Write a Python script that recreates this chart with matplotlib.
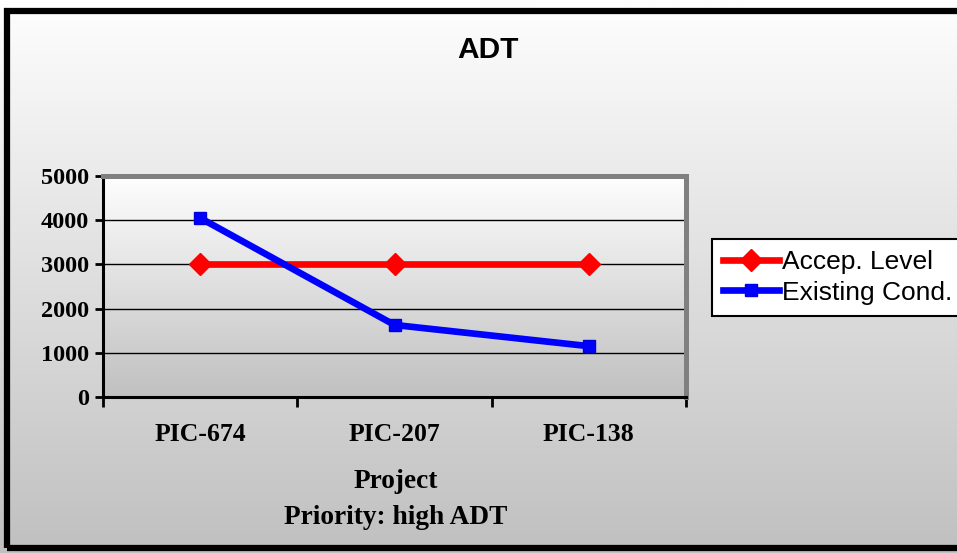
import numpy as np
import matplotlib
matplotlib.use("Agg")
import matplotlib.pyplot as plt
from matplotlib.patches import Rectangle
from matplotlib.colors import LinearSegmentedColormap

categories = ["PIC-674", "PIC-207", "PIC-138"]
accep_level = [3000, 3000, 3000]
existing_cond = [4050, 1630, 1150]
y_ticks = [0, 1000, 2000, 3000, 4000, 5000]
series_names = ["Accep. Level", "Existing Cond."]
title = "ADT"
xlabel_lines = ["Project", "Priority: high ADT"]

W, H = 957, 553
fig = plt.figure(figsize=(W / 100, H / 100), dpi=100)

grad = np.linspace(0, 1, 256).reshape(-1, 1)
cmap = LinearSegmentedColormap.from_list("g", ["#fefefe", "#c0c0c0"])

# figure background gradient
bg = fig.add_axes([0, 0, 1, 1], zorder=-10)
bg.imshow(grad, cmap=cmap, aspect="auto", extent=[0, 1, 0, 1], origin="upper")
bg.set_xlim(0, 1); bg.set_ylim(0, 1)
bg.axis("off")
# outer black frame (right side runs past the image)
bg.add_patch(Rectangle((7 / W, (H - 548) / H), 1.2, (548 - 11) / H,
                       fill=False, edgecolor="black", linewidth=4.5,
                       transform=bg.transAxes, clip_on=False))

serif = ["Liberation Serif", "DejaVu Serif"]
sans = ["Liberation Sans", "DejaVu Sans"]

left, right, top, bottom = 103, 686, 176, 397
ax = fig.add_axes([left / W, 1 - bottom / H, (right - left) / W, (bottom - top) / H])
ax.imshow(grad, cmap=cmap, aspect="auto", extent=[0, 1, 0, 1],
          transform=ax.transAxes, origin="upper", zorder=0)

x = np.arange(len(categories))
ax.set_xlim(-0.5, len(categories) - 0.5)
ax.set_ylim(0, 5000)

for yv in y_ticks[1:-1]:
    ax.axhline(yv, color="black", lw=1.0, zorder=1)

ax.plot(x, accep_level, color="#ff0000", lw=4.8, marker="D", markersize=11,
        markerfacecolor="#ff0000", markeredgecolor="#ff0000", zorder=3,
        label=series_names[0])
ax.plot(x, existing_cond, color="#0000ff", lw=4.8, marker="s", markersize=8.5,
        markerfacecolor="#0000ff", markeredgecolor="#0000dd", zorder=4,
        label=series_names[1])

ax.set_yticks(y_ticks)
ax.set_yticklabels([str(v) for v in y_ticks], fontfamily=serif,
                   fontweight="bold", fontsize=17.5)
ax.set_xticks(np.arange(-0.5, len(categories)))
ax.set_xticklabels([])
ax.set_xticks(x, minor=True)
ax.set_xticklabels(categories, minor=True, fontfamily=serif,
                   fontweight="bold", fontsize=18.5)
ax.tick_params(axis="y", length=6, width=2, direction="out", pad=4)
ax.tick_params(axis="x", which="major", length=7, width=2, direction="out")
ax.tick_params(axis="x", which="minor", length=0, pad=19)

for s in ["top", "right"]:
    ax.spines[s].set_color("#808080")
    ax.spines[s].set_linewidth(3.6)
for s in ["left", "bottom"]:
    ax.spines[s].set_color("black")
    ax.spines[s].set_linewidth(2.2)

fig.text(488 / W, 1 - 50 / H, title, ha="center", va="center",
         fontfamily=sans, fontweight="bold", fontsize=21.5)
fig.text(396 / W, 1 - 481 / H, xlabel_lines[0], ha="center", va="center",
         fontfamily=serif, fontweight="bold", fontsize=19.7)
fig.text(396 / W, 1 - 517 / H, xlabel_lines[1], ha="center", va="center",
         fontfamily=serif, fontweight="bold", fontsize=19.7)

leg = fig.legend(loc="upper left", bbox_to_anchor=(712 / W, 1 - 239 / H),
                 prop={"family": sans, "size": 19}, frameon=True,
                 fancybox=False, handlelength=2.1, handletextpad=0.12,
                 borderpad=0.42, labelspacing=0.25, borderaxespad=0)
leg.get_frame().set_edgecolor("black")
leg.get_frame().set_linewidth(1.5)
leg.get_frame().set_facecolor("white")
leg.get_frame().set_alpha(1)

fig.savefig("out.png", dpi=100)
